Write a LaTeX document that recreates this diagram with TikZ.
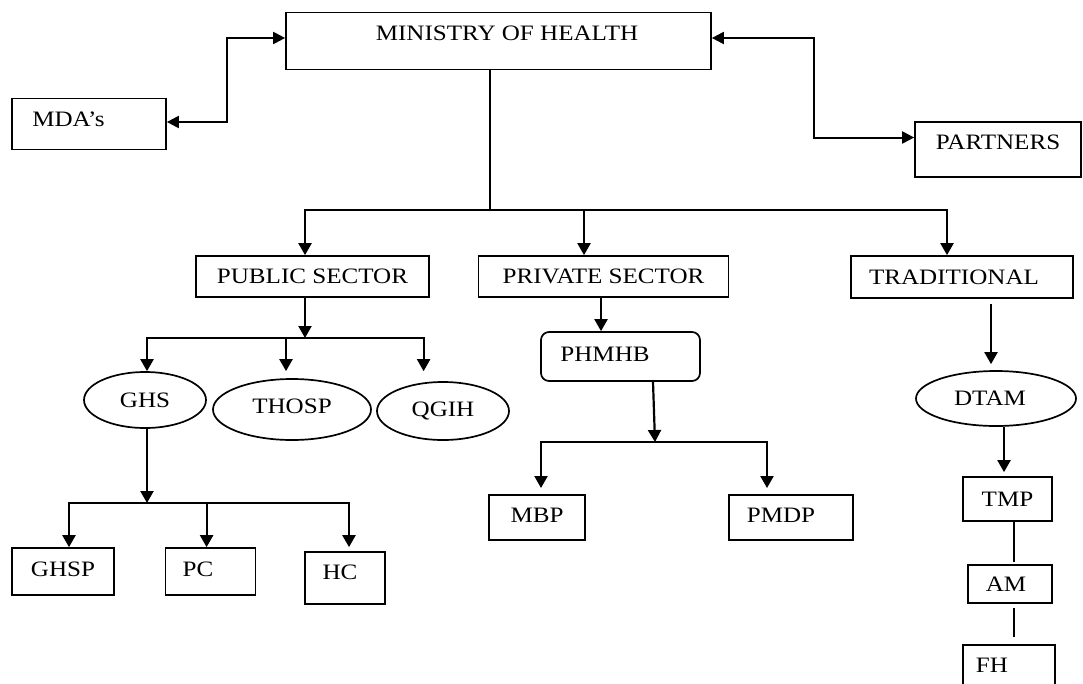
\documentclass[tikz,border=0pt]{standalone}
\usepackage{fontspec}
\setmainfont{Liberation Serif}[FakeStretch=1.14]
\usetikzlibrary{arrows.meta,shapes.geometric}
\begin{document}
\begin{tikzpicture}[x=1pt,y=-1pt,font=\fontsize{22}{26}\selectfont,
  box/.style={draw,line width=1.7pt,inner sep=0pt,text height=14.6pt,text depth=0pt},
  oval/.style={box,ellipse},
  rbox/.style={box,rounded corners=8pt},
  bar/.style={line width=2pt,line cap=rect},
  arr/.style={line width=2.2pt,-{Triangle[length=12pt,width=13pt]}},
  dbl/.style={line width=2pt,{Triangle[length=12pt,width=12pt]}-{Triangle[length=12pt,width=12pt]}},
  thin/.style={line width=1.3pt}]
\useasboundingbox (0,0) rectangle (1083,683);
\clip (0,0) rectangle (1083,683);
\node[box,minimum width=425pt,minimum height=57pt,text depth=15pt] (moh) at (498.5,41) {\hspace*{17pt}MINISTRY OF HEALTH};
\node[box,minimum width=154pt,minimum height=51pt,text depth=9pt] (mda) at (89,124) {MDA’s\hspace*{41pt}};
\node[box,minimum width=166pt,minimum height=55pt,text depth=14pt] (partners) at (998,149.5) {PARTNERS};
\node[box,minimum width=233pt,minimum height=41pt] (pub) at (312.5,276.5) {PUBLIC SECTOR};
\node[box,minimum width=250pt,minimum height=41pt] (priv) at (603.5,276.5) {PRIVATE SECTOR};
\node[box,minimum width=222pt,minimum height=42pt] (trad) at (962,277) {TRADITIONAL\hspace*{16pt}};
\node[oval,minimum width=122pt,minimum height=56pt] (ghs) at (145,400) {GHS};
\node[oval,minimum width=158pt,minimum height=61pt,text depth=7pt] (thosp) at (292,409.5) {THOSP};
\node[oval,minimum width=132pt,minimum height=58pt,text depth=4pt] (qgih) at (443,411) {QGIH};
\node[box,minimum width=102pt,minimum height=47pt,text depth=5pt] (ghsp) at (63,571.5) {GHSP};
\node[box,minimum width=90pt,minimum height=47pt,text depth=5pt] (pc) at (210.5,571.5) {PC\hspace*{25pt}};
\node[box,minimum width=80pt,minimum height=52pt,text depth=12pt] (hc) at (345,578) {HC\hspace*{10pt}};
\node[rbox,minimum width=159pt,minimum height=49pt,text depth=5pt] (phmhb) at (620.5,356.5) {PHMHB\hspace*{31pt}};
\node[box,minimum width=96pt,minimum height=45pt,text depth=5pt] (mbp) at (537,517.5) {MBP};
\node[box,minimum width=124pt,minimum height=45pt,text depth=5pt] (pmdp) at (791,517.5) {PMDP\hspace*{20pt}};
\node[oval,minimum width=160pt,minimum height=55pt] (dtam) at (996,398.5) {DTAM\hspace*{12pt}};
\node[box,minimum width=89pt,minimum height=44pt] (tmp) at (1007.5,499) {TMP};
\node[box,minimum width=84pt,minimum height=38pt] (am) at (1010,584) {AM\hspace*{8pt}};
\node[box,minimum width=92pt,minimum height=50pt,text depth=10pt] (fh) at (1009,670) {FH\hspace*{34pt}};
\draw[dbl] ([yshift=2pt]mda.east) -- ++(60,0) |- ([yshift=3pt]moh.west);
\draw[dbl] ([yshift=3pt]moh.east) -- ++(102,0) |- ([yshift=12pt]partners.west);
\coordinate (hub) at (490,210);
\coordinate (hubL) at (305,210);
\coordinate (hubM) at (584,210);
\coordinate (hubR) at (947,210);
\draw[line width=1.6pt] (moh.south -| hub) -- (hub);
\draw[bar] (hubL) -- (hubR);
\draw[arr] (hubL) -- (hubL |- pub.north);
\draw[arr] (hubM) -- (hubM |- priv.north);
\draw[arr] (hubR) -- (hubR |- trad.north);
\coordinate (pubhub) at (305,338);
\coordinate (pa) at (147,338);
\coordinate (pb) at (286,338);
\coordinate (pcc) at (423.6,338);
\draw[arr] (pub.south -| pubhub) -- (pubhub);
\draw[bar] (pa) -- (pcc);
\draw[arr] (pa) -- (pa |- ghs.north);
\draw[arr] (pb) -- (pb |- ghs.north);
\draw[arr] (pcc) -- (pcc |- ghs.north);
\coordinate (ghshub) at (147,503);
\coordinate (ga) at (69,503);
\coordinate (gb) at (206.6,503);
\coordinate (gc) at (349,503);
\draw[arr] (ghs.south -| ghshub) -- (ghshub);
\draw[bar] (ga) -- (gc);
\draw[arr] (ga) -- (ga |- ghsp.north);
\draw[arr] (gb) -- (gb |- ghsp.north);
\draw[arr] (gc) -- (gc |- ghsp.north);
\coordinate (phhub) at (655,442);
\coordinate (ma) at (541,442);
\coordinate (mb) at (767,442);
\coordinate (ma2) at (541,488);
\coordinate (mb2) at (767,488);
\draw[arr] ([xshift=-2.5pt]priv.south) -- ([xshift=-19.5pt]phmhb.north);
\draw[arr] ([xshift=32.5pt]phmhb.south) -- (phhub);
\draw[bar] (ma) -- (mb);
\draw[arr] (ma) -- (ma2);
\draw[arr] (mb) -- (mb2);
\draw[arr] ([xshift=29pt,yshift=-5pt]trad.south) -- ([xshift=-5pt,yshift=6pt]dtam.north);
\draw[arr] ([xshift=8pt]dtam.south) -- ([xshift=-3.5pt,yshift=4pt]tmp.north);
\draw[thin] ([xshift=6.5pt]tmp.south) -- ([xshift=4pt,yshift=2pt]am.north);
\draw[thin] ([xshift=4pt,yshift=-4pt]am.south) -- ([xshift=5pt,yshift=7pt]fh.north);
\end{tikzpicture}
\end{document}
